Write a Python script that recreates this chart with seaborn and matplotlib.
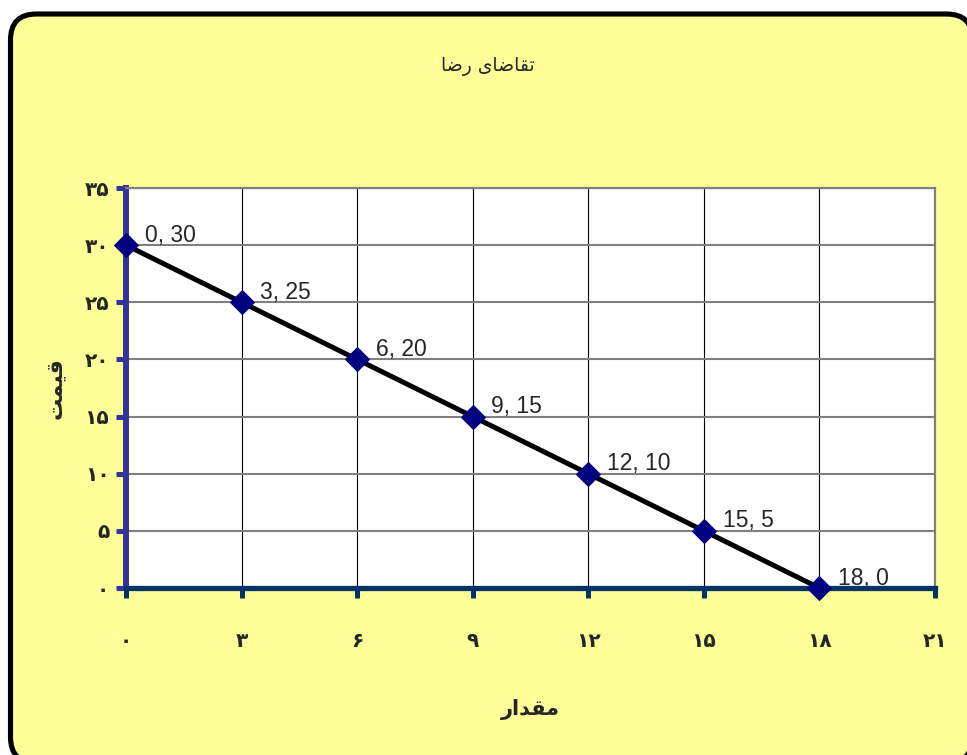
import matplotlib
matplotlib.use("Agg")
import matplotlib.pyplot as plt
from matplotlib.patches import FancyBboxPatch
from matplotlib.transforms import IdentityTransform
import pandas as pd
import seaborn as sns

# Demand schedule: quantity vs. price
quantity = [0, 3, 6, 9, 12, 15, 18]
price = [30, 25, 20, 15, 10, 5, 0]
x_ticks = [0, 3, 6, 9, 12, 15, 18, 21]
y_ticks = [0, 5, 10, 15, 20, 25, 30, 35]

# Persian text written with Arabic presentation forms (logical order),
# reversed for left-to-right rendering
title_forms = "\uFE97\uFED8\uFE8E\uFEBF\uFE8E\uFEEF \uFEAD\uFEBF\uFE8E"   # تقاضای رضا
xlabel_forms = "\uFEE3\uFED8\uFEAA\uFE8D\uFEAD"                          # مقدار
ylabel_forms = "\uFED7\uFEF4\uFEE4\uFE96"                                # قیمت
title_text = title_forms[::-1]
xlabel_text = xlabel_forms[::-1]
ylabel_text = ylabel_forms[::-1]

PERSIAN_DIGITS = str.maketrans("0123456789", "۰۱۲۳۴۵۶۷۸۹")


def fa(n):
    return str(n).translate(PERSIAN_DIGITS)


df = pd.DataFrame({"quantity": quantity, "price": price})

sns.set_style("white")
plt.rcParams["font.family"] = ["DejaVu Sans"]

W, H, DPI = 967, 755, 100
fig = plt.figure(figsize=(W / DPI, H / DPI), dpi=DPI, facecolor="white")

# rounded yellow chart frame
frame = FancyBboxPatch((10.5, -8), 962, 749,
                       boxstyle="round,pad=0,rounding_size=26",
                       transform=IdentityTransform(),
                       facecolor="#FFFF99", edgecolor="black",
                       linewidth=3.7, zorder=-1)
fig.add_artist(frame)

ax = fig.add_axes([126 / W, 1 - 588 / H, (935 - 126) / W, (588 - 188) / H])
ax.set_facecolor("white")

sns.lineplot(data=df, x="quantity", y="price", ax=ax, color="black",
             linewidth=3.6, marker="D", markersize=12.5,
             markerfacecolor="#000080", markeredgecolor="#000080",
             zorder=5, clip_on=False)

for q, p in zip(quantity, price):
    ax.annotate(f"{q}, {p}", (q, p), xytext=(13.5, 2.5),
                textcoords="offset points", fontsize=16.5,
                family="Liberation Sans", va="baseline", ha="left",
                zorder=6)

ax.set_xlim(0, 21)
ax.set_ylim(0, 35)
ax.set_xticks(x_ticks)
ax.set_yticks(y_ticks)
ax.set_xticklabels([fa(v) for v in x_ticks], fontsize=14.5, fontweight="bold")
ax.set_yticklabels([fa(v) for v in y_ticks], fontsize=14.5, fontweight="bold")
ax.set_xlabel("")
ax.set_ylabel("")

ax.yaxis.grid(True, color="#808080", linewidth=1.5)
ax.xaxis.grid(True, color="black", linewidth=0.8)
ax.set_axisbelow(True)

ax.spines["left"].set_color("#333399")
ax.spines["left"].set_linewidth(4.3)
ax.spines["bottom"].set_color("#003366")
ax.spines["bottom"].set_linewidth(3.8)
for s in ("top", "right"):
    ax.spines[s].set_color("#808080")
    ax.spines[s].set_linewidth(1.6)

ax.tick_params(axis="y", direction="out", length=7, width=3.6,
               color="#333399", pad=5, left=True)
ax.tick_params(axis="x", direction="out", length=7, width=3.6,
               color="#003366", pad=25, bottom=True)

fig.text(488 / W, 1 - 67 / H, title_text, ha="center", va="center",
         fontsize=13.5)
fig.text(530 / W, 1 - 710 / H, xlabel_text, ha="center", va="center",
         fontsize=15, fontweight="bold")
fig.text(55 / W, 1 - 388 / H, ylabel_text, ha="center", va="center",
         fontsize=16, fontweight="bold", rotation=90)

fig.savefig("out.png", dpi=DPI, facecolor="white")
